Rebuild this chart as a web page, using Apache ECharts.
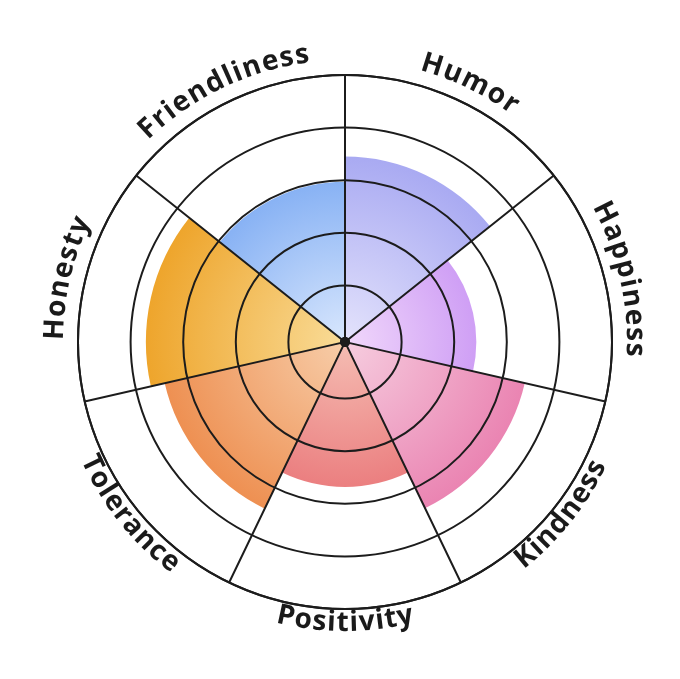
<!DOCTYPE html>
<html>
<head>
<meta charset="utf-8">
<style>
  html, body { margin: 0; padding: 0; background: #ffffff; }
  #chart { width: 680px; height: 679px; }
</style>
<script src="https://cdn.jsdelivr.net/npm/echarts@6/dist/echarts.min.js"></script>
</head>
<body>
<div id="chart"></div>
<script>
// ---- data ----
const categories = ['Humor', 'Happiness', 'Kindness', 'Positivity', 'Tolerance', 'Honesty', 'Friendliness'];
const values = [3.45, 2.42, 3.43, 2.68, 3.44, 3.71, 2.97];
const radiusMax = 5;
const innerColors = ['#e4e3fc', '#f1d8fb', '#f6cddf', '#f5bdb3', '#f7cda9', '#f9dc98', '#d9e7fd'];
const outerColors = ['#a9aaf2', '#cf9ff5', '#ea84b2', '#eb7f80', '#ee9052', '#eea52c', '#88b2f4'];

// ---- layout / style ----
const CX = 345, CY = 342, R0 = 4, R1 = 267;
const LINE = '#1c1c1c';
const FONT_SIZE = 28;
const FONT = 'bold ' + FONT_SIZE + 'px "Open Sans"';
const LETTER_SPACING = 1.2;

const chart = echarts.init(document.getElementById('chart'), null, { renderer: 'canvas' });

const barData = values.map(function (v, i) {
  const rPix = R0 + (v / radiusMax) * (R1 - R0);
  return {
    value: v,
    itemStyle: {
      color: {
        type: 'radial', x: CX, y: CY, r: rPix, global: true,
        colorStops: [
          { offset: 0, color: innerColors[i] },
          { offset: 1, color: outerColors[i] }
        ]
      }
    }
  };
});

// curved labels built from characters
const measureCtx = document.createElement('canvas').getContext('2d');
measureCtx.font = FONT;
const graphics = [];
const step = 360 / categories.length;
categories.forEach(function (name, i) {
  const midDeg = 90 - step * (i + 0.5);
  const mid = midDeg * Math.PI / 180;
  const inward = Math.sin(mid) < 0;
  const rMid = inward ? 281 : 290;
  const rBase = inward ? 291 : 281;
  const chars = name.split('');
  const widths = chars.map(function (c) { return measureCtx.measureText(c).width; });
  const total = widths.reduce(function (a, b) { return a + b; }, 0) + LETTER_SPACING * (chars.length - 1);
  const span = total / rBase;
  let cum = 0;
  chars.forEach(function (c, k) {
    const off = (cum + widths[k] / 2) / rBase;
    cum += widths[k] + LETTER_SPACING;
    const th = inward ? (mid - span / 2 + off) : (mid + span / 2 - off);
    graphics.push({
      type: 'text',
      x: CX + rMid * Math.cos(th),
      y: CY - rMid * Math.sin(th),
      rotation: inward ? th + Math.PI / 2 : th - Math.PI / 2,
      z: 100,
      style: {
        text: c,
        font: FONT,
        fill: '#1a1a1a',
        align: 'center',
        verticalAlign: 'middle',
        textAlign: 'center',
        textVerticalAlign: 'middle'
      }
    });
  });
});
// hub where the spokes meet
graphics.push({
  type: 'circle',
  shape: { cx: CX, cy: CY, r: R0 + 0.5 },
  style: { fill: LINE },
  z: 100
});

const option = {
  backgroundColor: '#ffffff',
  animation: false,
  polar: { center: [CX, CY], radius: [R0, R1] },
  angleAxis: {
    type: 'category',
    data: categories,
    startAngle: 90,
    clockwise: true,
    boundaryGap: true,
    z: 10,
    axisLine: { show: true, lineStyle: { color: LINE, width: 2 } },
    axisTick: { show: false },
    axisLabel: { show: false },
    splitLine: { show: true, interval: 0, lineStyle: { color: LINE, width: 2 } }
  },
  radiusAxis: {
    type: 'value',
    min: 0,
    max: radiusMax,
    interval: 1,
    z: 10,
    axisLine: { show: false },
    axisTick: { show: false },
    axisLabel: { show: false },
    splitLine: { show: true, lineStyle: { color: LINE, width: 2 } }
  },
  series: [{
    type: 'bar',
    coordinateSystem: 'polar',
    data: barData,
    barCategoryGap: '0%',
    barGap: '0%',
    z: 2
  }],
  graphic: graphics
};
chart.setOption(option);
</script>
</body>
</html>
